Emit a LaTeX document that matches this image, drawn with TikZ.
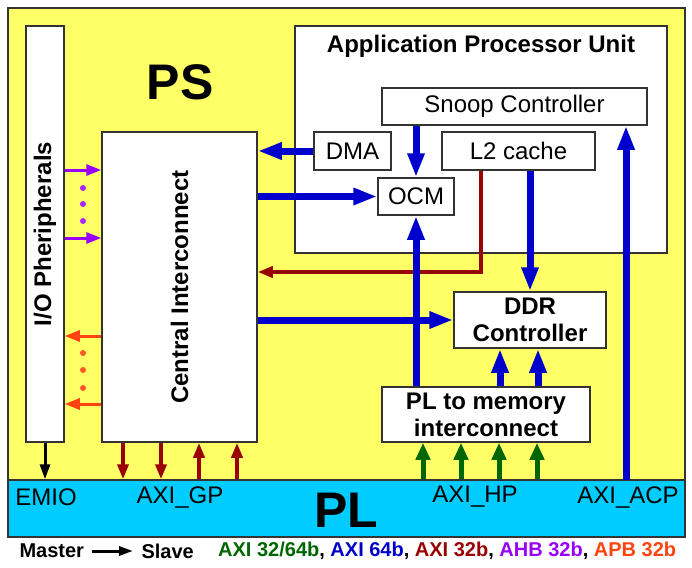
\documentclass[tikz,border=0pt]{standalone}
\usepackage{fontspec}
\setmainfont{Liberation Sans}
\usepackage{tikz}
\usetikzlibrary{arrows.meta, positioning}
\definecolor{PSYellow}{RGB}{255,255,102}
\definecolor{PLCyan}{RGB}{0,204,255}
\definecolor{ZqBorder}{RGB}{51,51,51}
\definecolor{ZqBlue}{RGB}{0,0,204}
\definecolor{ZqRed}{RGB}{153,0,0}
\definecolor{ZqGreen}{RGB}{0,102,0}
\definecolor{ZqPurple}{RGB}{153,0,255}
\definecolor{ZqOrange}{RGB}{255,68,17}

\begin{document}
\begin{tikzpicture}[x=1pt, y=-1pt,
          zbx/.style={rectangle, draw=ZqBorder, line width=1.5pt, fill=white,
                      inner sep=0pt, align=center,
                      font=\fontsize{24}{27}\selectfont},
          barr/.style={-{Triangle[length=24pt, width=16pt]}, draw=ZqBlue,
                       line width=7pt},
          rarr/.style={-{Triangle[length=15pt, width=11pt]}, draw=ZqRed,
                       line width=3.5pt},
          garr/.style={-{Triangle[length=17pt, width=14pt]}, draw=ZqGreen,
                       line width=5pt},
          parr/.style={-{Triangle[length=15pt, width=11pt]}, draw=ZqPurple,
                       line width=3pt},
          oarr/.style={-{Triangle[length=15pt, width=11pt]}, draw=ZqOrange,
                       line width=3pt},
          karr/.style={-{Triangle[length=15pt, width=10pt]}, draw=black,
                       line width=3pt},
          lbl/.style={font=\fontsize{24}{27}\selectfont},
          blbl/.style={font=\fontsize{24}{27}\selectfont\bfseries},
          leg/.style={font=\fontsize{20}{22}\selectfont\bfseries}
        ]
        \useasboundingbox (0,0) rectangle (692,567);

        % PS and PL regions
        \node[rectangle, draw=ZqBorder, line width=1.5pt, fill=PSYellow,
              minimum width=677pt, minimum height=472pt, inner sep=0pt]
              (ps) at (346.5,244) {};
        \node[rectangle, draw=ZqBorder, line width=1.5pt, fill=PLCyan,
              minimum width=677pt, minimum height=57pt, inner sep=0pt]
              (pl) at (346.5,508.5) {};
        \node[font=\fontsize{50}{56}\selectfont\bfseries] (pstxt)
              at (180,82) {PS};
        \node[font=\fontsize{50}{56}\selectfont\bfseries] (pltxt)
              at (346,510) {PL};

        % Ports on the PL side
        \node[lbl] (emio) at (46,497) {EMIO};
        \node[lbl] (gp) at (180,497) {AXI\_GP};
        \node[lbl] (hp) at (475,497) {AXI\_HP};
        \node[lbl] (acptxt) at (628,497) {AXI\_ACP};
        \coordinate (acp) at (626,480);

        % Left column
        \node[zbx, minimum width=38pt, minimum height=416pt] (io)
              at (45,234) {};
        \node[rotate=90, blbl] at (io.center) {I/O Pheripherals};
        \node[zbx, minimum width=155pt, minimum height=310pt] (ci)
              at (179.5,287) {};
        \node[rotate=90, blbl] at (ci.center) {Central Interconnect};

        % Application Processor Unit
        \node[zbx, minimum width=372pt, minimum height=227pt] (apu)
              at (481,139.5) {};
        \node[blbl] at (481,46) {Application Processor Unit};
        \node[zbx, minimum width=265pt, minimum height=37pt] (snoop)
              at (514.5,106.5) {Snoop Controller};
        \node[zbx, minimum width=77pt, minimum height=38pt] (dma)
              at (352.5,151) {DMA};
        \node[zbx, minimum width=153pt, minimum height=38pt] (l2)
              at (518.5,151) {L2 cache};
        \node[zbx, minimum width=76pt, minimum height=37pt] (ocm)
              at (416,196.5) {OCM};

        % Memory side
        \node[zbx, minimum width=152pt, minimum height=56pt,
              font=\fontsize{24}{27}\selectfont\bfseries] (ddr)
              at (530,320) {DDR\\Controller};
        \node[zbx, minimum width=208pt, minimum height=55pt,
              font=\fontsize{24}{27}\selectfont\bfseries] (pl2m)
              at (486,414.5) {PL to memory\\interconnect};

        % AXI 32b (GP) arrows
        \draw[rarr] (l2.south -| 481,0) |- (ci.east |- 0,272);
        \draw[rarr] (ci.south -| 123,0) -- (pl.north -| 123,0);
        \draw[rarr] (ci.south -| 161,0) -- (pl.north -| 161,0);
        \draw[rarr] (pl.north -| 199,0) -- (ci.south -| 199,0);
        \draw[rarr] (pl.north -| 237,0) -- (ci.south -| 237,0);

        % AXI 64b arrows
        \draw[barr] (dma.west) -- (ci.east |- dma.west);
        \draw[barr] (ci.east |- ocm.west) -- (ocm.west);
        \draw[barr] (snoop.south -| ocm.north) -- (ocm.north);
        \draw[barr] (pl2m.north -| ocm.south) -- (ocm.south);
        \draw[barr] (l2.south -| ddr.north) -- (ddr.north);
        \draw[barr] (ci.east |- ddr.west) -- (ddr.west);
        \draw[barr] (pl2m.north -| 500,0) -- (ddr.south -| 500,0);
        \draw[barr] (pl2m.north -| 538,0) -- (ddr.south -| 538,0);
        \draw[barr] (acp) -- (acp |- snoop.south);

        % AXI 32/64b (HP) arrows
        \draw[garr] (pl.north -| 423,0) -- (pl2m.south -| 423,0);
        \draw[garr] (pl.north -| 461,0) -- (pl2m.south -| 461,0);
        \draw[garr] (pl.north -| 499,0) -- (pl2m.south -| 499,0);
        \draw[garr] (pl.north -| 537,0) -- (pl2m.south -| 537,0);

        % AHB and APB between peripherals and interconnect
        \draw[parr] (io.east |- 0,170) -- (ci.west |- 0,170);
        \draw[parr] (io.east |- 0,238) -- (ci.west |- 0,238);
        \fill[ZqPurple!85!white] (83,188) circle (3pt) (83,204) circle (3pt)
              (83,221) circle (3pt);
        \draw[oarr] (ci.west |- 0,336) -- (io.east |- 0,336);
        \draw[oarr] (ci.west |- 0,404) -- (io.east |- 0,404);
        \fill[ZqOrange!90!white] (83,353) circle (3pt) (83,370) circle (3pt)
              (83,388) circle (3pt);

        % EMIO
        \draw[karr] (io.south) -- (io.south |- pl.north);

        % Legend
        \node[leg, anchor=west] (master) at (16,551) {Master};
        \node[leg, anchor=west] (slave) at (138,551) {Slave};
        \draw[-{Triangle[length=14pt, width=9pt]}, line width=3pt]
              (master.east -| 92,0) -- (slave.west -| 133,0);
        \node[leg, anchor=west, inner sep=0pt] (legtxt) at (218,551)
              {\textcolor{ZqGreen}{AXI 32/64b}, \textcolor{ZqBlue}{AXI 64b},
               \textcolor{ZqRed}{AXI 32b}, \textcolor{ZqPurple}{AHB 32b},
               \textcolor{ZqOrange}{APB 32b}};
      \end{tikzpicture}
\end{document}
